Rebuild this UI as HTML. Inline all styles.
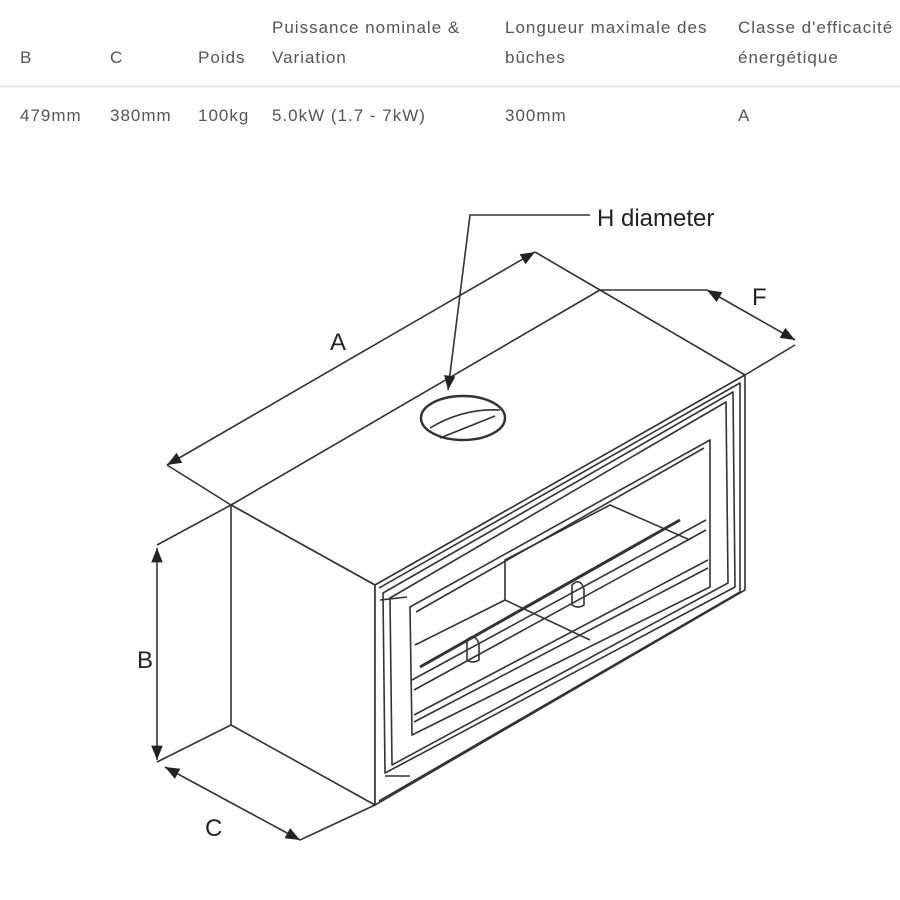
<!DOCTYPE html>
<html><head><meta charset="utf-8"><style>
body{margin:0;width:900px;height:900px;background:#fff;overflow:hidden;font-family:"Liberation Sans",sans-serif}
svg{position:absolute;left:0;top:0}
</style></head><body>
<svg width="900" height="900" viewBox="0 0 900 900" xmlns="http://www.w3.org/2000/svg">
<defs>
<marker id="ar" viewBox="0 0 10 10" refX="10" refY="5" markerWidth="9" markerHeight="9" orient="auto-start-reverse"><path d="M0,1 L10,5 L0,9 Z" fill="#222"/></marker>
</defs>
<g font-family="Liberation Sans, sans-serif" font-size="17" fill="#555" letter-spacing="1">
<text x="272" y="33">Puissance nominale &amp;</text>
<text x="505" y="33">Longueur maximale des</text>
<text x="738" y="33">Classe d'efficacité</text>
<text x="20" y="63">B</text><text x="110" y="63">C</text><text x="198" y="63">Poids</text>
<text x="272" y="63">Variation</text><text x="505" y="63">bûches</text><text x="738" y="63">énergétique</text>
<text x="20" y="121">479mm</text><text x="110" y="121">380mm</text><text x="198" y="121">100kg</text>
<text x="272" y="121">5.0kW (1.7 - 7kW)</text><text x="505" y="121">300mm</text><text x="738" y="121">A</text>
</g>
<line x1="0" y1="86.5" x2="900" y2="86.5" stroke="#ddd" stroke-width="1.5"/>
<g fill="none" stroke="#333" stroke-width="1.6" stroke-linejoin="round">
<path d="M231,505 L600,290 L745,375 L375,585 Z" fill="#fff"/>
<path d="M231,505 L375,585 L375,805 L231,725 Z" fill="#fff"/>
<path d="M375,585 L745,375 L745,590 L375,805 Z" fill="#fff"/>
<path d="M379,588 L740,383 L740,592 L379,801"/>
<path d="M383,593 L733,392 L735,587 L385,773 Z"/>
<path d="M390,598 L726,402 L728,583 L392,765 Z"/>
<path d="M410,607 L710,440 L710,587 L412,735 Z"/>
<path d="M416,612 L704,448"/>
<path d="M412,680 L706,520 M414,690 L706,530 M414,715 L708,560 M414,722 L708,568"/>
<path d="M415,645 L505,600 L590,640 M505,600 L505,560 L610,505 L690,540"/>
<path d="M420,667 L680,520" stroke-width="3"/>
<path d="M467,640 q8,-8 12,4 l0,16 q-6,4 -12,0 Z M572,585 q8,-8 12,4 l0,16 q-6,4 -12,0 Z"/>
<path d="M380,600 L407,597 M385,776 L410,776"/>
<ellipse cx="463" cy="418" rx="42" ry="22" stroke-width="2.5"/>
<path d="M430,428 Q463,408 500,410 M440,438 L495,416"/>
<path d="M167,465 L535,252" marker-start="url(#ar)" marker-end="url(#ar)"/>
<path d="M535,252 L600,290 M167,465 L231,505"/>
<path d="M707,290 L795,340" marker-start="url(#ar)" marker-end="url(#ar)"/>
<path d="M600,290 L707,290 M745,375 L795,345"/>
<path d="M157,548 L157,760" marker-start="url(#ar)" marker-end="url(#ar)"/>
<path d="M157,545 L231,505 M157,762 L231,725"/>
<path d="M165,767 L300,840" marker-start="url(#ar)" marker-end="url(#ar)"/>
<path d="M300,840 L375,805"/>
<path d="M590,215 L470,215 L448,390" marker-end="url(#ar)"/>
</g>
<g font-family="Liberation Sans, sans-serif" font-size="24" fill="#222">
<text x="597" y="226">H diameter</text>
<text x="330" y="350">A</text>
<text x="752" y="305">F</text>
<text x="137" y="668">B</text>
<text x="205" y="836">C</text>
</g>
</svg>
</body></html>
